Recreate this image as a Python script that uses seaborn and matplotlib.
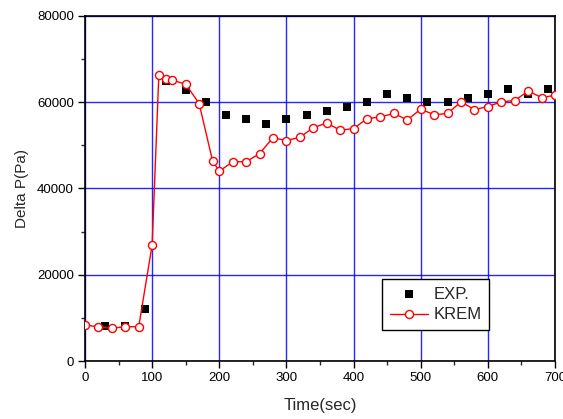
import matplotlib
matplotlib.use("Agg")
import matplotlib.pyplot as plt
import seaborn as sns
import pandas as pd
from matplotlib.ticker import MultipleLocator

exp_time = [30, 60, 90, 120, 150, 180, 210, 240, 270, 300, 330, 360, 390, 420,
            450, 480, 510, 540, 570, 600, 630, 660, 690]
exp_dp = [8100, 8100, 12000, 64900, 62800, 60000, 57000, 56000, 54900, 56000,
          57000, 58000, 59000, 60000, 61900, 60900, 60000, 60000, 60900, 61900,
          63000, 61900, 63000]

krem_time = [0, 20, 40, 60, 80, 100, 110, 120, 130, 150, 170, 190, 200, 220, 240,
             260, 280, 300, 320, 340, 360, 380, 400, 420, 440, 460, 480, 500, 520,
             540, 560, 580, 600, 620, 640, 660, 680, 700]
krem_dp = [8350, 7900, 7600, 7950, 7950, 26900, 66400, 65400, 65100, 64200, 59700,
           46400, 44000, 46200, 46200, 48100, 51800, 51100, 51900, 54100, 55200,
           53500, 53900, 56200, 56600, 57400, 55900, 58400, 57100, 57400, 60100,
           58300, 59000, 60100, 60400, 62600, 61100, 61600]

exp_df = pd.DataFrame({"t": exp_time, "dp": exp_dp})
krem_df = pd.DataFrame({"t": krem_time, "dp": krem_dp})

sns.set_style("white")
plt.rcParams['font.family'] = ['Liberation Sans', 'DejaVu Sans']

fig = plt.figure(figsize=(5.63, 4.19), dpi=100)
ax = fig.add_axes([85/563, 1-361/419, 470/563, 345/419])

ax.set_xlim(0, 700)
ax.set_ylim(0, 80000)
ax.set_axisbelow(True)
ax.grid(True, which="major", color="#0000ff", linewidth=1.0, alpha=0.85)

sns.scatterplot(data=exp_df, x="t", y="dp", ax=ax, marker="s", s=26, color="black",
                edgecolor="black", linewidth=0, label="EXP.", zorder=3, clip_on=False)
sns.lineplot(data=krem_df, x="t", y="dp", ax=ax, color="red", linewidth=1.0,
             marker="o", markersize=5.8, markerfacecolor="white",
             markeredgecolor="red", markeredgewidth=1.0, label="KREM", zorder=4)

ax.xaxis.set_major_locator(MultipleLocator(100))
ax.xaxis.set_minor_locator(MultipleLocator(50))
ax.yaxis.set_major_locator(MultipleLocator(20000))
ax.yaxis.set_minor_locator(MultipleLocator(10000))
ax.tick_params(which="major", direction="out", length=5, width=1, labelsize=9.5,
               bottom=True, left=True, top=False, right=False, colors="black", pad=3)
ax.tick_params(which="minor", direction="out", length=3, width=1,
               bottom=True, left=True, top=False, right=False)
for sp in ax.spines.values():
    sp.set_color("black")
    sp.set_linewidth(1.2)

ax.set_xlabel("Time(sec)", fontsize=12, labelpad=10)
ax.set_ylabel("Delta P(Pa)", fontsize=11, labelpad=6)

leg = ax.legend(loc="upper left", bbox_to_anchor=((382-85)/470, (361-279)/345),
                frameon=True, fancybox=False, edgecolor="black", framealpha=1,
                fontsize=12, handlelength=2.3, borderpad=0.45, labelspacing=0.35,
                handletextpad=0.35, borderaxespad=0)
leg.get_frame().set_linewidth(1.0)

fig.savefig("out.png", dpi=100)
